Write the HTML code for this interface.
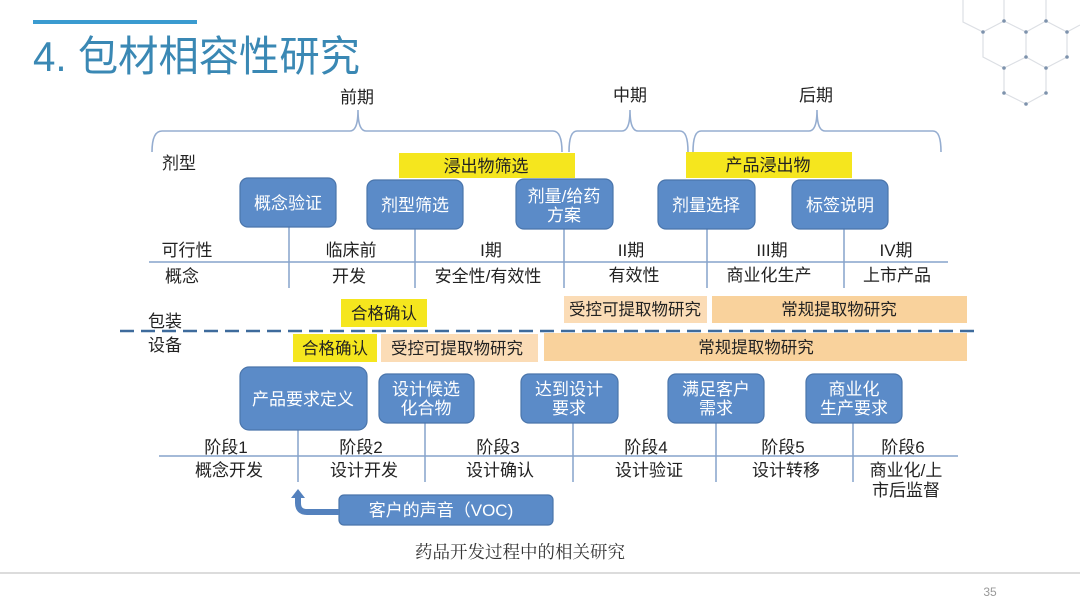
<!DOCTYPE html>
<html><head><meta charset="utf-8">
<style>
html,body{margin:0;padding:0;background:#fff;}
svg{display:block;}
text{font-family:"Liberation Sans","Noto Sans CJK SC",sans-serif;}
</style></head>
<body>
<svg width="1080" height="607" viewBox="0 0 1080 607" xmlns="http://www.w3.org/2000/svg">
<!-- hex decoration -->
<g stroke="#dcdfe4" stroke-width="1.2" fill="none">
<path d="M983,32 L983,57 L1004,68 L1026,57 L1026,32 L1004,21 Z"/>
<path d="M1026,32 L1046,21 L1067,32 L1067,57 L1046,68 L1026,57"/>
<path d="M1004,68 L1004,93 L1026,104 L1046,93 L1046,68"/>
<path d="M1004,21 L1004,0 M1046,21 L1046,0 M983,32 L963,22 L963,0 M1067,32 L1080,25"/>
</g>
<g fill="#7d92ac">
<circle cx="1004" cy="21" r="1.8"/><circle cx="983" cy="32" r="1.8"/><circle cx="1026" cy="32" r="1.8"/>
<circle cx="1046" cy="21" r="1.8"/><circle cx="1067" cy="32" r="1.8"/><circle cx="1026" cy="57" r="1.8"/>
<circle cx="1067" cy="57" r="1.8"/><circle cx="1004" cy="68" r="1.8"/><circle cx="1046" cy="68" r="1.8"/>
<circle cx="1004" cy="93" r="1.8"/><circle cx="1046" cy="93" r="1.8"/><circle cx="1026" cy="104" r="1.8"/>
</g>

<!-- title -->
<rect x="33" y="20" width="164" height="4" fill="#3a9bd0"/>
<text x="33" y="71" font-size="42" fill="#3a88b4" textLength="327" lengthAdjust="spacingAndGlyphs">4. 包材相容性研究</text>

<!-- phase labels -->
<g font-size="17" fill="#222" text-anchor="middle">
<text x="357" y="103">前期</text>
<text x="630" y="101">中期</text>
<text x="816" y="101">后期</text>
</g>

<!-- brackets -->
<g stroke="#95add0" stroke-width="1.6" fill="none">
<path d="M152,152 Q152,131 162,131 L350,131 Q358,131 358,110 Q358,131 366,131 L553,131 Q562,131 562,152"/>
<path d="M569,152 Q569,131 577,131 L622,131 Q630,131 630,110 Q630,131 638,131 L680,131 Q688,131 688,152"/>
<path d="M693,152 Q693,131 701,131 L809,131 Q817,131 817,110 Q817,131 825,131 L933,131 Q941,131 941,152"/>
</g>

<text x="162" y="169" font-size="17" fill="#222">剂型</text>

<!-- yellow bars top -->
<rect x="399" y="153" width="176" height="25" fill="#f5e61e"/>
<rect x="686" y="152" width="166" height="26" fill="#f5e61e"/>
<g font-size="17" fill="#222" text-anchor="middle">
<text x="486" y="172">浸出物筛选</text>
<text x="768" y="171">产品浸出物</text>
</g>

<!-- timeline lines top -->
<g stroke="#86a3cb" stroke-width="1.5">
<line x1="149" y1="262" x2="948" y2="262"/>
<line x1="289" y1="227" x2="289" y2="288"/>
<line x1="415" y1="229" x2="415" y2="288"/>
<line x1="564" y1="229" x2="564" y2="288"/>
<line x1="707" y1="229" x2="707" y2="288"/>
<line x1="844" y1="229" x2="844" y2="288"/>
</g>

<!-- top blue boxes -->
<g fill="#5b8bc8" stroke="#4a75ab" stroke-width="1.2">
<rect x="240" y="178" width="96" height="49" rx="8"/>
<rect x="367" y="180" width="96" height="49" rx="8"/>
<rect x="516" y="179" width="97" height="50" rx="8"/>
<rect x="658" y="180" width="97" height="49" rx="8"/>
<rect x="792" y="180" width="96" height="49" rx="8"/>
</g>
<g font-size="17" fill="#fff" text-anchor="middle">
<text x="288" y="209">概念验证</text>
<text x="415" y="211">剂型筛选</text>
<text x="564" y="202">剂量/给药</text>
<text x="564" y="221">方案</text>
<text x="706" y="211">剂量选择</text>
<text x="840" y="211">标签说明</text>
</g>

<!-- top timeline labels -->
<g font-size="17" fill="#222" text-anchor="middle">
<text x="187" y="256">可行性</text>
<text x="351" y="256">临床前</text>
<text x="491" y="256">I期</text>
<text x="631" y="256">II期</text>
<text x="772" y="256">III期</text>
<text x="896" y="256">IV期</text>
<text x="182" y="282">概念</text>
<text x="349" y="282">开发</text>
<text x="488" y="282">安全性/有效性</text>
<text x="634" y="281">有效性</text>
<text x="769" y="281">商业化生产</text>
<text x="897" y="281">上市产品</text>
</g>

<!-- packaging / equipment -->
<text x="148" y="327" font-size="17" fill="#222">包装</text>
<text x="148" y="351" font-size="17" fill="#222">设备</text>
<line x1="120" y1="331" x2="975" y2="331" stroke="#3e6b9c" stroke-width="2.5" stroke-dasharray="14 7"/>

<rect x="341" y="299" width="86" height="28" fill="#f5e61e"/>
<rect x="564" y="296" width="143" height="27" fill="#fbdcb6"/>
<rect x="712" y="296" width="255" height="27" fill="#f9d29c"/>
<rect x="293" y="334" width="84" height="28" fill="#f5e61e"/>
<rect x="381" y="334" width="157" height="28" fill="#fbdcb6"/>
<rect x="544" y="333" width="423" height="28" fill="#f9d29c"/>
<g font-size="16.5" fill="#222" text-anchor="middle">
<text x="384" y="319">合格确认</text>
<text x="635" y="315">受控可提取物研究</text>
<text x="839" y="315">常规提取物研究</text>
<text x="335" y="354">合格确认</text>
<text x="457" y="354">受控可提取物研究</text>
<text x="756" y="353">常规提取物研究</text>
</g>

<!-- bottom timeline lines -->
<g stroke="#86a3cb" stroke-width="1.5">
<line x1="159" y1="456" x2="958" y2="456"/>
<line x1="298" y1="430" x2="298" y2="482"/>
<line x1="425" y1="423" x2="425" y2="482"/>
<line x1="573" y1="423" x2="573" y2="482"/>
<line x1="716" y1="423" x2="716" y2="482"/>
<line x1="853" y1="423" x2="853" y2="482"/>
</g>

<!-- bottom boxes -->
<g fill="#5b8bc8" stroke="#4a75ab" stroke-width="1.2">
<rect x="240" y="367" width="127" height="63" rx="9"/>
<rect x="379" y="374" width="95" height="49" rx="8"/>
<rect x="521" y="374" width="97" height="49" rx="8"/>
<rect x="668" y="374" width="96" height="49" rx="8"/>
<rect x="806" y="374" width="96" height="49" rx="8"/>
<rect x="339" y="495" width="214" height="30" rx="5"/>
</g>
<g font-size="17" fill="#fff" text-anchor="middle">
<text x="303" y="405">产品要求定义</text>
<text x="426" y="395">设计候选</text>
<text x="426" y="414">化合物</text>
<text x="569" y="395">达到设计</text>
<text x="569" y="414">要求</text>
<text x="716" y="395">满足客户</text>
<text x="716" y="414">需求</text>
<text x="854" y="395">商业化</text>
<text x="854" y="414">生产要求</text>
<text x="441" y="516">客户的声音（VOC)</text>
</g>

<!-- arrow -->
<path d="M339,512 L307,512 Q298,512 298,503 L298,497" stroke="#5481bd" stroke-width="6" fill="none"/>
<polygon points="298,489 305,498 291,498" fill="#5481bd"/>

<!-- bottom labels -->
<g font-size="17" fill="#222" text-anchor="middle">
<text x="226" y="453">阶段1</text>
<text x="361" y="453">阶段2</text>
<text x="498" y="453">阶段3</text>
<text x="646" y="453">阶段4</text>
<text x="783" y="453">阶段5</text>
<text x="903" y="453">阶段6</text>
<text x="229" y="476">概念开发</text>
<text x="364" y="476">设计开发</text>
<text x="500" y="476">设计确认</text>
<text x="649" y="476">设计验证</text>
<text x="786" y="476">设计转移</text>
<text x="906" y="476">商业化/上</text>
<text x="906" y="496">市后监督</text>
</g>

<text x="520" y="558" font-size="17.5" fill="#333" text-anchor="middle" style="font-family:'Liberation Serif','Noto Serif CJK SC',serif;">药品开发过程中的相关研究</text>

<rect x="0" y="572" width="1080" height="2" fill="#dcdcdc"/>
<text x="990" y="596" font-size="12" fill="#999" text-anchor="middle">35</text>
</svg>
</body></html>
